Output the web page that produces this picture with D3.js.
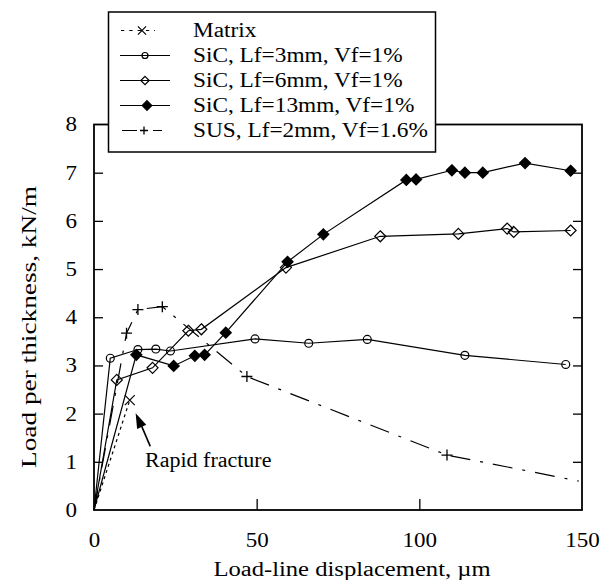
<!DOCTYPE html>
<html>
<head>
<meta charset="utf-8">
<script src="https://cdn.jsdelivr.net/npm/d3@7"></script>
<style>
  html, body { margin: 0; padding: 0; background: #fff; }
  svg { display: block; }
  text { font-family: "Liberation Serif", "Times New Roman", serif; fill: #000; }
</style>
</head>
<body>
<svg id="chart" width="603" height="580"></svg>
<script>
// ---- data ----
const seriesNames = ["Matrix", "SiC, Lf=3mm, Vf=1%", "SiC, Lf=6mm, Vf=1%", "SiC, Lf=13mm, Vf=1%", "SUS, Lf=2mm, Vf=1.6%"];

const matrixX = [0, 11];
const matrixY = [0, 2.28];

const sic3X = [0, 5, 13.5, 19, 23.5, 49.5, 66, 84, 114, 145];
const sic3Y = [0, 3.15, 3.33, 3.34, 3.30, 3.55, 3.46, 3.54, 3.21, 3.02];

const sic6X = [0, 7, 18, 29, 33, 59, 88, 112, 127, 129, 146.5];
const sic6Y = [0, 2.70, 2.95, 3.72, 3.75, 5.03, 5.68, 5.73, 5.84, 5.77, 5.80];

const sic13X = [0, 13, 24.5, 31, 34, 40.5, 59.5, 70.5, 96, 99, 110, 114, 119.5, 132.5, 146.5];
const sic13Y = [0, 3.22, 2.99, 3.20, 3.22, 3.68, 5.15, 5.72, 6.85, 6.86, 7.05, 7.00, 7.00, 7.20, 7.04];

const susX = [0, 10, 13.5, 21, 47, 108.5, 149];
const susY = [0, 3.67, 4.16, 4.22, 2.77, 1.14, 0.60];

const xTicks = [0, 50, 100, 150];
const yTicks = [0, 1, 2, 3, 4, 5, 6, 7, 8];
const xTitle = "Load-line displacement,  \u00B5m";
const yTitle = "Load per thickness,  kN/m";
const noteText = "Rapid fracture";

// ---- layout ----
const svg = d3.select("#chart");
const L = 94, R = 582, T = 124.5, B = 510;
const x = d3.scaleLinear().domain([0, 150]).range([L, R]);
const y = d3.scaleLinear().domain([0, 8]).range([B, T]);

// widen glyphs horizontally (the scanned original is stretched)
function widen(sel, factor) {
  sel.each(function () {
    const w = this.getComputedTextLength();
    d3.select(this).attr("textLength", w * factor).attr("lengthAdjust", "spacingAndGlyphs");
  });
}

const zip = (xs, ys) => xs.map((v, i) => ({ x: v, y: ys[i] }));
const series = [
  { name: seriesNames[0], data: zip(matrixX, matrixY), dash: "3,3.5", marker: "x", endMark: true },
  { name: seriesNames[1], data: zip(sic3X, sic3Y), dash: null, marker: "circle", endMark: true },
  { name: seriesNames[2], data: zip(sic6X, sic6Y), dash: null, marker: "diamond", endMark: true },
  { name: seriesNames[3], data: zip(sic13X, sic13Y), dash: null, marker: "fdiamond", endMark: true },
  { name: seriesNames[4], data: zip(susX, susY), dash: "20,10,3,10", marker: "plus", endMark: false }
];

// frame
svg.append("rect").attr("x", L).attr("y", T).attr("width", R - L).attr("height", B - T)
  .attr("fill", "none").attr("stroke", "#000").attr("stroke-width", 1.8);

// axes with inward ticks
const fs = 20;
const gx = svg.append("g").attr("transform", `translate(0,${B})`)
  .call(d3.axisBottom(x).tickValues(xTicks).tickSize(-11).tickPadding(23).tickFormat(d3.format("d")));
const gy = svg.append("g").attr("transform", `translate(${L},0)`)
  .call(d3.axisLeft(y).tickValues(yTicks).tickSize(-9).tickPadding(17).tickFormat(d3.format("d")));
const gr = svg.append("g").attr("transform", `translate(${R},0)`)
  .call(d3.axisRight(y).tickValues(yTicks.slice(1, -1)).tickSize(-9).tickFormat(""));
[gx, gy, gr].forEach(g => {
  g.select(".domain").remove();
  g.selectAll("line").attr("stroke", "#000").attr("stroke-width", 1.3);
  g.selectAll("text").style("font-family", "Liberation Serif").style("font-size", fs + "px").attr("fill", "#000");
});
gx.selectAll(".tick").filter(d => d === 0 || d === 150).select("line").remove();
gy.selectAll(".tick").filter(d => d === 0 || d === 8).select("line").remove();
widen(gx.selectAll("text"), 1.15);
widen(gy.selectAll("text"), 1.15);

// axis titles
const xt = svg.append("text").attr("x", 352).attr("y", 576).attr("text-anchor", "middle")
  .style("font-size", "20px").text(xTitle);
widen(xt, 1.23);
const yt = svg.append("text").attr("transform", "translate(36,327) rotate(-90)").attr("text-anchor", "middle")
  .style("font-size", "21px").text(yTitle);
widen(yt, 1.3);

// lines
const line = d3.line().x(d => x(d.x)).y(d => y(d.y));
const plot = svg.append("g");
series.forEach(s => {
  plot.append("path").attr("d", line(s.data)).attr("fill", "none")
    .attr("stroke", "#000").attr("stroke-width", 1.2)
    .attr("stroke-dasharray", s.dash);
});

// markers
function drawMarker(g, type, cx, cy, sz) {
  if (type === "circle") {
    g.append("circle").attr("cx", cx).attr("cy", cy).attr("r", sz * 0.72)
      .attr("fill", "none").attr("stroke", "#000").attr("stroke-width", 1.2);
  } else if (type === "diamond" || type === "fdiamond") {
    const d = sz;
    g.append("path").attr("d", `M${cx},${cy - d}L${cx + d},${cy}L${cx},${cy + d}L${cx - d},${cy}Z`)
      .attr("fill", type === "fdiamond" ? "#000" : "none").attr("stroke", "#000").attr("stroke-width", 1.2);
  } else if (type === "x") {
    const d = sz * 0.9;
    g.append("path").attr("d", `M${cx - d},${cy - d}L${cx + d},${cy + d}M${cx - d},${cy + d}L${cx + d},${cy - d}`)
      .attr("stroke", "#000").attr("stroke-width", 1.2);
  } else if (type === "plus") {
    const d = sz;
    g.append("path").attr("d", `M${cx - d},${cy}L${cx + d},${cy}M${cx},${cy - d}L${cx},${cy + d}`)
      .attr("stroke", "#000").attr("stroke-width", 1.3);
  }
}
series.forEach(s => {
  const pts = s.data.filter((d, i) => i > 0 && (s.endMark || i < s.data.length - 1));
  pts.forEach(d => drawMarker(plot, s.marker, x(d.x), y(d.y), 5.5));
});

// annotation
const nt = svg.append("text").attr("x", 145).attr("y", 467).style("font-size", "20px").text(noteText);
widen(nt, 1.1);
const ax1 = x(17.3), ay1 = y(1.32), ax2 = x(12.8), ay2 = y(2.01);
svg.append("line").attr("x1", ax1).attr("y1", ay1).attr("x2", ax2 + 3).attr("y2", ay2 + 6)
  .attr("stroke", "#000").attr("stroke-width", 1.6);
{
  const ang = Math.atan2(ay2 - ay1, ax2 - ax1);
  const len = 15, w = 5;
  const bx = ax2 - len * Math.cos(ang), by = ay2 - len * Math.sin(ang);
  const px = -Math.sin(ang) * w, py = Math.cos(ang) * w;
  svg.append("path").attr("d", `M${ax2},${ay2}L${bx + px},${by + py}L${bx - px},${by - py}Z`).attr("fill", "#000");
}

// legend
const lg = svg.append("g");
lg.append("rect").attr("x", 108.5).attr("y", 12).attr("width", 327).attr("height", 140)
  .attr("fill", "#fff").attr("stroke", "#000").attr("stroke-width", 1.5);
const legendSamples = [
  { x1: 121, x2: 155, dash: "3.3,5", mx: 142, ms: 4.5 },
  { x1: 120, x2: 170, dash: null, mx: 145, ms: 4.2 },
  { x1: 120, x2: 170, dash: null, mx: 145, ms: 4.2 },
  { x1: 120, x2: 170, dash: null, mx: 147, ms: 4.8 },
  { x1: 122, x2: 162, dash: "15,16,9", mx: 144, ms: 4 }
];
series.forEach((s, i) => {
  const base = 37 + i * 25;
  const ly = base - 6.5;
  const ls = legendSamples[i];
  lg.append("line").attr("x1", ls.x1).attr("x2", ls.x2).attr("y1", ly).attr("y2", ly)
    .attr("stroke", "#000").attr("stroke-width", 1.2).attr("stroke-dasharray", ls.dash);
  drawMarker(lg, s.marker, ls.mx, ly, ls.ms);
  const t = lg.append("text").attr("x", 193).attr("y", base).style("font-size", "20px").text(s.name);
  widen(t, 1.165);
});
</script>
</body>
</html>
